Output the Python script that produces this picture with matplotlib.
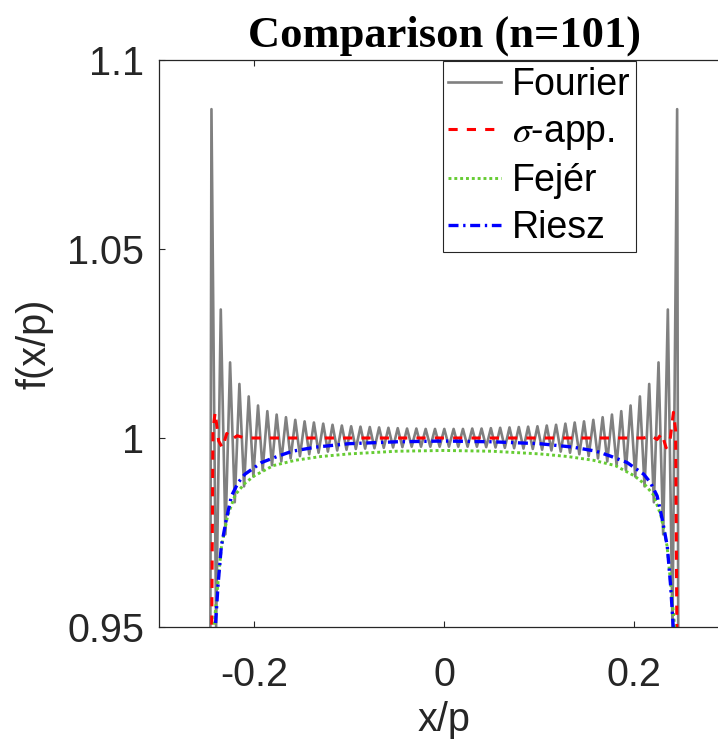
import numpy as np
import matplotlib
matplotlib.use("Agg")
import matplotlib.pyplot as plt

plt.rcParams["font.family"] = ["Liberation Sans", "DejaVu Sans"]
plt.rcParams["mathtext.fontset"] = "stix"

# Fourier partial sum: extrema, from the right edge peak (x=0.2451) in to x=0
fourier_half = [1.087, 0.950, 1.034, 0.9745, 1.020, 0.983, 1.0143, 0.9872, 1.0110, 0.9898,
                1.0086, 0.9915, 1.0071, 0.9928, 1.0062, 0.9938, 1.0055, 0.9946, 1.0048, 0.9952,
                1.0044, 0.9957, 1.0041, 0.9961, 1.0038, 0.9964, 1.0035, 0.9967, 1.0033, 0.9969,
                1.0031, 0.9971, 1.0030, 0.9972, 1.0029, 0.9973, 1.0028, 0.9974, 1.0027, 0.9975,
                1.0026, 0.9976, 1.0025, 0.9977, 1.0025, 0.9977, 1.0024, 0.9977, 1.0024, 0.9977,
                1.0024]
fourier_tail_x = [0.25, 0.2549, 0.30]
fourier_tail_v = [0.5, -0.087, 0.0]

# sigma approximation (right half, mirrored)
sigma_x = [0.0, 0.15, 0.21, 0.218, 0.224, 0.229, 0.2335, 0.2375, 0.2412, 0.2435, 0.2448, 0.2475, 0.25, 0.2525, 0.256, 0.30]
sigma_v = [1.0, 1.0, 1.0, 1.0006, 0.9996, 1.0012, 0.9974, 0.9992, 1.0068, 1.002, 0.95, 0.75, 0.5, 0.25, 0.0, 0.0]

# Fejer
fejer_x = [0.0, 0.05, 0.10, 0.13, 0.157, 0.18, 0.20, 0.21, 0.22, 0.228, 0.2345, 0.2385, 0.2425, 0.2455, 0.25, 0.256, 0.30]
fejer_v = [0.9967, 0.9965, 0.9958, 0.9951, 0.9941, 0.9927, 0.9900, 0.9880, 0.9850, 0.9795, 0.9714, 0.9610, 0.9500, 0.90, 0.50, 0.08, 0.0]

# Riesz
riesz_x = [0.0, 0.05, 0.10, 0.135, 0.16, 0.175, 0.1925, 0.21, 0.217, 0.224, 0.2294, 0.2347, 0.2382, 0.241, 0.245, 0.25, 0.256, 0.30]
riesz_v = [0.9992, 0.9990, 0.9985, 0.9976, 0.9965, 0.9952, 0.9935, 0.9904, 0.9882, 0.9847, 0.9785, 0.9714, 0.9610, 0.9500, 0.88, 0.50, 0.08, 0.0]


def mirror(xs, vs):
    xs = np.asarray(xs)
    vs = np.asarray(vs)
    return np.concatenate([-xs[::-1], xs[1:]]), np.concatenate([vs[::-1], vs[1:]])


# extrema positions of the partial sum are evenly spaced
xh = np.linspace(0.2451, 0.0, len(fourier_half))
fv = np.asarray(fourier_half)
tx = np.asarray(fourier_tail_x)
tv = np.asarray(fourier_tail_v)
four_x = np.concatenate([-tx[::-1], -xh, xh[::-1][1:], tx])
four_v = np.concatenate([tv[::-1], fv, fv[::-1][1:], tv])

sx, sv = mirror(sigma_x, sigma_v)
fx, fjv = mirror(fejer_x, fejer_v)
rx, rv = mirror(riesz_x, riesz_v)

fig = plt.figure(figsize=(7.18, 7.52), dpi=100)
# the right side of the axes box is cut off by the figure edge, as in the original
ax = fig.add_axes([159.3 / 718, 125 / 752, 570 / 718, 567 / 752])

ax.plot(four_x, four_v, color=(0.5, 0.5, 0.5), lw=1.9, label="Fourier")
ax.plot(sx, sv, color="red", lw=2.2, ls=(0, (3.0, 3.0)), label=r"$\sigma$-app.")
ax.plot(fx, fjv, color=(0.4, 0.8, 0.2), lw=2.1, ls=(0, (1, 1.0)), label="Fejér")
ax.plot(rx, rv, color="blue", lw=2.4, ls=(0, (3.0, 1.4, 0.7, 1.4)), label="Riesz")

ax.set_xlim(-0.3, 0.3)
ax.set_ylim(0.95, 1.1)
ax.set_xticks([-0.2, 0, 0.2])
ax.set_xticklabels(["-0.2", "0", "0.2"])
ax.set_yticks([0.95, 1, 1.05, 1.1])
ax.set_yticklabels(["0.95", "1", "1.05", "1.1"])
ax.tick_params(direction="in", length=4, width=0.8, color="#262626", labelcolor="#262626",
               labelsize=28.5, top=True, right=True)
ax.tick_params(axis="x", pad=21)
ax.tick_params(axis="y", pad=11)
for sp in ax.spines.values():
    sp.set_color("#262626")
    sp.set_linewidth(0.9)

ax.set_xlabel("x/p", fontsize=28.5, color="#262626", labelpad=5)
ax.set_ylabel("f(x/p)", fontsize=28.5, color="#262626", labelpad=10)
ax.set_title("Comparison (n=101)", fontsize=32, fontweight="bold", family="Liberation Serif", pad=10)

leg = ax.legend(loc="upper right", bbox_to_anchor=(636 / 718, 1 - 61 / 752), bbox_transform=fig.transFigure,
                fontsize=27, frameon=True, fancybox=False, framealpha=1, edgecolor="#262626",
                borderaxespad=0, borderpad=0.15, labelspacing=0.3, handlelength=1.4, handletextpad=0.3)
leg.get_frame().set_linewidth(0.8)

plt.savefig("out.png", dpi=100)
